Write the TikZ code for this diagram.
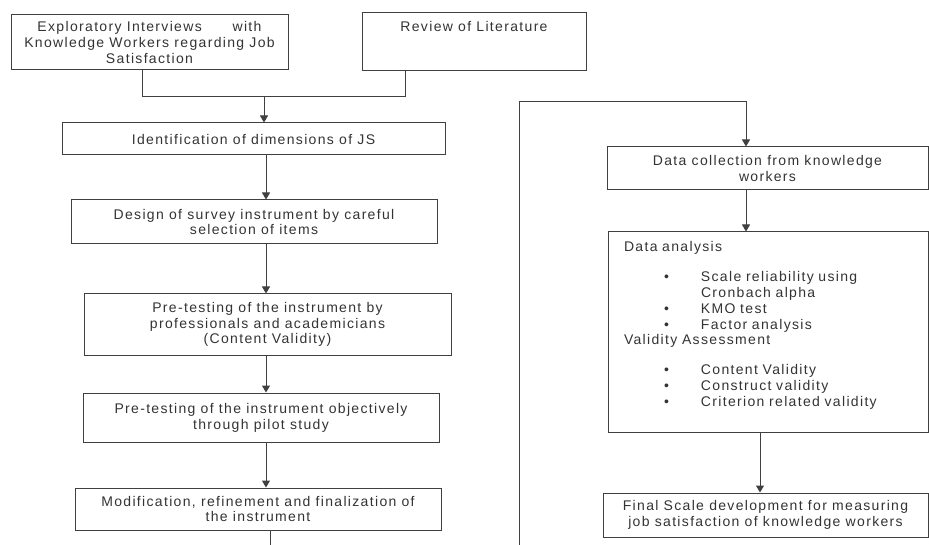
\documentclass[tikz,border=0pt]{standalone}
\usepackage{fontspec}
\setmainfont{Liberation Sans}[LetterSpace=9.5]
\usepackage{tikz}
\usetikzlibrary{shapes,arrows.meta,positioning,calc}
\tikzstyle{arrow} = [draw=black!75, line width=1pt, -{Triangle[length=7pt,width=8pt]}]
\newcommand{\bitem}[1]{\makebox[77pt][l]{\hspace*{40pt}\textbullet}#1}
\newcommand{\bcont}[1]{\hspace*{77pt}#1}

\begin{document}
\begin{tikzpicture}[x=1pt,y=-1pt]
    \tikzstyle{block} = [rectangle, draw=black!75, line width=1pt, text=black!80,
        align=center, inner sep=2pt, font=\fontsize{14}{15.8}\selectfont]
    \tikzstyle{line} = [draw=black!75, line width=1pt]
    \useasboundingbox (0,0) rectangle (929,545);

    % Left column
    \node [block, minimum width=277pt, minimum height=55pt] (explore) at (149.5,42.5) {Exploratory Interviews\hspace{2.2em}with\\Knowledge Workers regarding Job\\Satisfaction};
    \node [block, minimum width=224pt, minimum height=58pt] (review) at (474,42) {Review of Literature\\ \mbox{}\\ \mbox{}};
    \node [block, minimum width=383pt, minimum height=32pt] (ident) at (253.5,139) {Identification of dimensions of JS};
    \node [block, minimum width=366pt, minimum height=44pt] (design) at (254,222) {Design of survey instrument by careful\\selection of items};
    \node [block, minimum width=367pt, minimum height=61pt] (pretest) at (267.5,324.5) {Pre-testing of the instrument by\\professionals and academicians\\(Content Validity)};
    \node [block, minimum width=356pt, minimum height=49pt] (pilot) at (261,417.5) {Pre-testing of the instrument objectively\\through pilot study};
    \node [block, minimum width=366pt, minimum height=42pt] (modif) at (258,509) {Modification, refinement and finalization of\\the instrument};

    % Right column
    \node [block, minimum width=321pt, minimum height=43pt] (collect) at (767.5,168.5) {Data collection from knowledge\\workers};
    \node [block, text width=288pt, inner xsep=16pt, minimum height=200pt, align=left] (analysis) at (768,332) {Data analysis\\[14pt]
        \bitem{Scale reliability using}\\
        \bcont{Cronbach alpha}\\
        \bitem{KMO test}\\
        \bitem{Factor analysis}\\
        Validity Assessment\\[14pt]
        \bitem{Content Validity}\\
        \bitem{Construct validity}\\
        \bitem{Criterion related validity}\\
        \mbox{}};
    \node [block, minimum width=325pt, minimum height=44pt] (final) at (765.5,515) {Final Scale development for measuring\\job satisfaction of knowledge workers};

    \coordinate (jl) at (142,97);
    \coordinate (jr) at (405,97);
    \coordinate (jm) at (264,97);
    \coordinate (spine) at (266,0);
    \coordinate (tail) at (270,545);
    \coordinate (lb) at (519,545);
    \coordinate (lt) at (519,102);
    \coordinate (rt) at (746,102);
    \coordinate (fin) at (760,0);

    % Lines
    \draw [line] (explore.south -| jl) -- (jl) -- (jr) -- (review.south -| jr);
    \draw [line] (modif.south -| tail) -- (tail);

    % Arrows
    \draw [arrow] (jm) -- (jm |- ident.north);
    \draw [arrow] (ident.south -| spine) -- (design.north -| spine);
    \draw [arrow] (design.south -| spine) -- (pretest.north -| spine);
    \draw [arrow] (pretest.south -| spine) -- (pilot.north -| spine);
    \draw [arrow] (pilot.south -| spine) -- (modif.north -| spine);
    \draw [arrow] (lb) -- (lt) -- (rt) -- (rt |- collect.north);
    \draw [arrow] (collect.south -| rt) -- (analysis.north -| rt);
    \draw [arrow] (analysis.south -| fin) -- (final.north -| fin);

\end{tikzpicture}
\end{document}
